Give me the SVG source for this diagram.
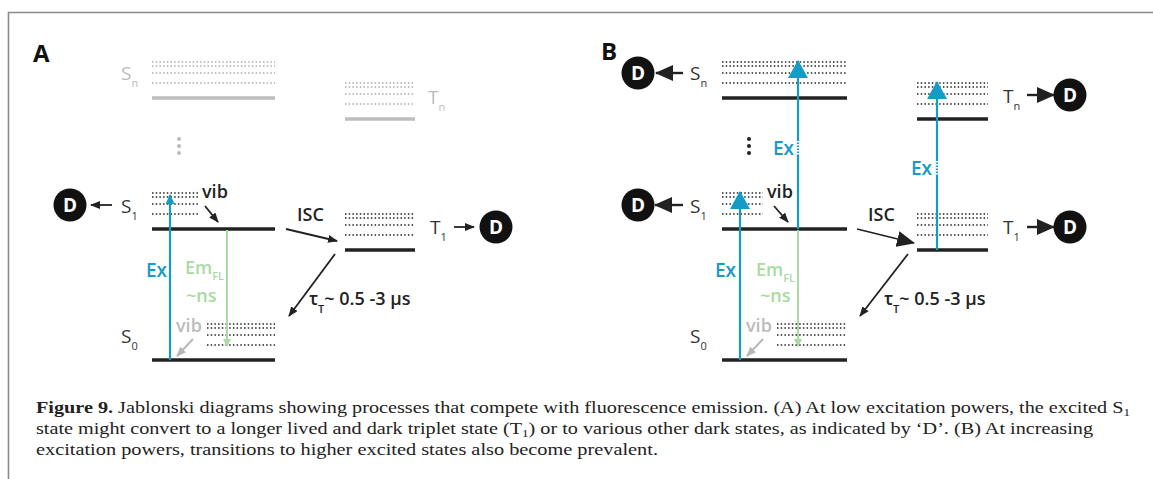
<svg xmlns="http://www.w3.org/2000/svg" width="1153" height="479" viewBox="0 0 1153 479">
<defs>
<style>
.frame{stroke:#8a8a8a;stroke-width:1.6;fill:none}
.lvl{stroke:#222;stroke-width:3.5;fill:none}
.lvlg{stroke:#bdbdbd;stroke-width:3.5;fill:none}
.dot{stroke:#222;stroke-width:1.6;stroke-dasharray:1.5 2.2;fill:none}
.dotg{stroke:#aaa;stroke-width:1.5;stroke-dasharray:1.5 2.2;fill:none}
.blk{stroke:#222;stroke-width:1.8;fill:none}
.gry{stroke:#b8b8b8;stroke-width:2;fill:none}
.ex{stroke:#159cc6;stroke-width:2.2;fill:none}
.em{stroke:#a8dca0;stroke-width:2;fill:none}
.lbl{font-family:"Open Sans","Noto Sans",sans-serif;font-weight:400;font-size:19px;fill:#333}
.sub{font-size:11px}
.bold{font-family:"Open Sans","Noto Sans",sans-serif;font-weight:600;font-size:18px;fill:#222}
.panel{font-family:"Open Sans","Noto Sans",sans-serif;font-weight:700;font-size:24px;fill:#111}
.exT{font-family:"Open Sans","Noto Sans",sans-serif;font-weight:600;font-size:19px;fill:#159cc6}
.emT{font-family:"Open Sans","Noto Sans",sans-serif;font-weight:600;font-size:18px;fill:#a8dca0}
.dC{fill:#111}
.dT{font-family:"Open Sans","Noto Sans",sans-serif;font-weight:700;font-size:19px;fill:#fff}
.cap{font-family:"Liberation Serif",serif;font-size:17px;fill:#222}
</style>
<marker id="ahB" markerUnits="userSpaceOnUse" markerWidth="10" markerHeight="8" refX="9" refY="4" orient="auto"><path d="M0,0 L10,4 L0,8 z" fill="#222"/></marker>
<marker id="ahBig" markerUnits="userSpaceOnUse" markerWidth="18" markerHeight="16" refX="17" refY="8" orient="auto"><path d="M0,0 L18,8 L0,16 z" fill="#222"/></marker>
<marker id="ahG" markerUnits="userSpaceOnUse" markerWidth="10" markerHeight="8" refX="9" refY="4" orient="auto"><path d="M0,0 L10,4 L0,8 z" fill="#b8b8b8"/></marker>
<marker id="ahC" markerUnits="userSpaceOnUse" markerWidth="10" markerHeight="9" refX="9" refY="4.5" orient="auto"><path d="M0,0 L10,4.5 L0,9 z" fill="#159cc6"/></marker>
<marker id="ahCbig" markerUnits="userSpaceOnUse" markerWidth="18" markerHeight="20" refX="17" refY="10" orient="auto"><path d="M0,0 L18,10 L0,20 z" fill="#159cc6"/></marker>
<marker id="ahE" markerUnits="userSpaceOnUse" markerWidth="8" markerHeight="8" refX="7" refY="4" orient="auto"><path d="M0,0 L8,4 L0,8 z" fill="#a8dca0"/></marker>
</defs>
<rect width="1153" height="479" fill="#fff"/>
<path class="frame" d="M8.5,479 V12.5 H1153"/>

<!-- Panel A -->
<g id="panelA">
<text class="panel" x="33" y="62">A</text>
<g id="A-Sn">
<path class="dotg" d="M152,62 H275 M152,66 H275 M152,73 H275 M152,83 H275"/>
<path class="lvlg" d="M152,98 H275"/>
<text class="lbl" x="121" y="80" style="fill:#bbb">S<tspan class="sub" dy="7">n</tspan></text>
</g>
<g id="A-Tn">
<path class="dotg" d="M345,83 H415 M345,87 H415 M345,94 H415 M345,104 H415"/>
<path class="lvlg" d="M345,119 H415"/>
<text class="lbl" x="428" y="104" style="fill:#bbb">T<tspan class="sub" dy="7">n</tspan></text>
</g>
<g id="A-vdots" fill="#bbb"><circle cx="179" cy="139" r="2"/><circle cx="179" cy="146" r="2"/><circle cx="179" cy="153" r="2"/></g>
<g id="A-S1">
<path class="dot" d="M152,193 H198 M152,197 H198 M152,204 H198 M152,214 H198"/>
<path class="lvl" d="M152,229 H275"/>
<text class="lbl" x="121" y="213">S<tspan class="sub" dy="7">1</tspan></text>
</g>
<g id="A-T1">
<path class="dot" d="M345,214 H415 M345,218 H415 M345,225 H415 M345,235 H415"/>
<path class="lvl" d="M345,250 H415"/>
<text class="lbl" x="430" y="234">T<tspan class="sub" dy="7">1</tspan></text>
</g>
<g id="A-S0">
<path class="dot" d="M207,324 H275 M207,328 H275 M207,335 H275 M207,345 H275"/>
<path class="lvl" d="M152,360 H275"/>
<text class="lbl" x="121" y="343">S<tspan class="sub" dy="7">0</tspan></text>
</g>
<g id="A-D1"><circle class="dC" cx="70" cy="205" r="16.5"/><text class="dT" x="70" y="212" text-anchor="middle">D</text></g>
<g id="A-D2"><circle class="dC" cx="496" cy="227" r="16.5"/><text class="dT" x="496" y="234" text-anchor="middle">D</text></g>
<text class="bold" x="202" y="198">vib</text>
<text class="bold" x="297" y="221">ISC</text>
<text class="bold" x="176" y="332" style="fill:#bbb">vib</text>
<text class="exT" x="146" y="277">Ex</text>
<text class="emT" x="185" y="274">Em<tspan class="sub" dy="6">FL</tspan></text>
<text class="emT" x="186" y="302">~ns</text>
<text class="bold" x="309" y="305">τ<tspan class="sub" dy="8">T</tspan><tspan dy="-8">~ 0.5 -3 μs</tspan></text>
</g>

<!-- Panel B -->
<g id="panelB">
<text class="panel" x="601" y="60">B</text>
<g id="B-Sn">
<path class="dot" d="M722,62 H847 M722,66 H847 M722,73 H847 M722,83 H847"/>
<path class="lvl" d="M722,98 H847"/>
<text class="lbl" x="690" y="80">S<tspan class="sub" dy="7">n</tspan></text>
</g>
<g id="B-Tn">
<path class="dot" d="M917,83 H988 M917,87 H988 M917,94 H988 M917,104 H988"/>
<path class="lvl" d="M917,119 H988"/>
<text class="lbl" x="1003" y="103">T<tspan class="sub" dy="7">n</tspan></text>
</g>
<g id="B-vdots" fill="#222"><circle cx="749" cy="139" r="2"/><circle cx="749" cy="146" r="2"/><circle cx="749" cy="153" r="2"/></g>
<g id="B-S1">
<path class="dot" d="M722,193 H763 M722,197 H763 M722,204 H763 M722,214 H763"/>
<path class="lvl" d="M722,229 H847"/>
<text class="lbl" x="690" y="213">S<tspan class="sub" dy="7">1</tspan></text>
</g>
<g id="B-T1">
<path class="dot" d="M917,214 H988 M917,218 H988 M917,225 H988 M917,235 H988"/>
<path class="lvl" d="M917,250 H988"/>
<text class="lbl" x="1003" y="234">T<tspan class="sub" dy="7">1</tspan></text>
</g>
<g id="B-S0">
<path class="dot" d="M777,324 H847 M777,328 H847 M777,335 H847 M777,345 H847"/>
<path class="lvl" d="M722,360 H847"/>
<text class="lbl" x="690" y="343">S<tspan class="sub" dy="7">0</tspan></text>
</g>
<g id="B-D1"><circle class="dC" cx="638" cy="73" r="16.5"/><text class="dT" x="638" y="80" text-anchor="middle">D</text></g>
<g id="B-D2"><circle class="dC" cx="638" cy="205" r="16.5"/><text class="dT" x="638" y="212" text-anchor="middle">D</text></g>
<g id="B-D3"><circle class="dC" cx="1070" cy="95" r="16.5"/><text class="dT" x="1070" y="102" text-anchor="middle">D</text></g>
<g id="B-D4"><circle class="dC" cx="1070" cy="227" r="16.5"/><text class="dT" x="1070" y="234" text-anchor="middle">D</text></g>
<text class="bold" x="767" y="198">vib</text>
<text class="bold" x="868" y="221">ISC</text>
<text class="bold" x="746" y="332" style="fill:#bbb">vib</text>
<text class="exT" x="715" y="277">Ex</text>
<text class="exT" x="773" y="155">Ex</text>
<text class="exT" x="911" y="175">Ex</text>
<text class="emT" x="756" y="276">Em<tspan class="sub" dy="6">FL</tspan></text>
<text class="emT" x="760" y="302">~ns</text>
<text class="bold" x="884" y="305">τ<tspan class="sub" dy="8">T</tspan><tspan dy="-8">~ 0.5 -3 μs</tspan></text>
</g>

<!-- Connectors -->
<g id="connectors">
<line class="blk" x1="112" y1="205" x2="91" y2="205" marker-end="url(#ahB)"/>
<line class="blk" x1="454" y1="227" x2="474" y2="227" marker-end="url(#ahB)"/>
<line class="blk" x1="205" y1="206" x2="218" y2="222" marker-end="url(#ahB)"/>
<line class="blk" x1="286" y1="229" x2="337" y2="241" marker-end="url(#ahB)"/>
<line class="blk" x1="335" y1="254" x2="289" y2="316" marker-end="url(#ahB)"/>
<line class="gry" x1="193" y1="339" x2="177" y2="356" marker-end="url(#ahG)"/>
<line class="ex" x1="170" y1="360" x2="170" y2="195" marker-end="url(#ahC)"/>
<line class="em" x1="227" y1="230" x2="227" y2="346" marker-end="url(#ahE)"/>

<line class="blk" style="stroke-width:2.4" x1="683" y1="73" x2="656" y2="73" marker-end="url(#ahBig)"/>
<line class="blk" style="stroke-width:2.4" x1="683" y1="205" x2="655" y2="205" marker-end="url(#ahBig)"/>
<line class="blk" style="stroke-width:2.4" x1="1027" y1="95" x2="1054" y2="95" marker-end="url(#ahBig)"/>
<line class="blk" style="stroke-width:2.4" x1="1027" y1="227" x2="1054" y2="227" marker-end="url(#ahBig)"/>
<line class="blk" x1="774" y1="206" x2="788" y2="222" marker-end="url(#ahB)"/>
<line class="blk" x1="857" y1="229" x2="914" y2="243" marker-end="url(#ahBig)"/>
<line class="blk" x1="908" y1="254" x2="860" y2="316" marker-end="url(#ahB)"/>
<line class="gry" x1="763" y1="339" x2="747" y2="356" marker-end="url(#ahG)"/>
<line class="em" x1="798" y1="230" x2="798" y2="346" marker-end="url(#ahE)"/>
<line class="ex" x1="740" y1="360" x2="740" y2="192" marker-end="url(#ahCbig)"/>
<line class="ex" x1="798" y1="229" x2="798" y2="61" marker-end="url(#ahCbig)"/>
<line class="ex" x1="937" y1="250" x2="937" y2="82" marker-end="url(#ahCbig)"/>
<line x1="798" y1="141" x2="798" y2="155" stroke="#fff" stroke-width="2.6" stroke-dasharray="1.5 1.5"/>
<line x1="937" y1="161" x2="937" y2="175" stroke="#fff" stroke-width="2.6" stroke-dasharray="1.5 1.5"/>
</g>

<!-- Caption -->
<g id="caption">
<text class="cap" x="36" y="413" textLength="1094" lengthAdjust="spacingAndGlyphs"><tspan font-weight="bold">Figure 9.</tspan> Jablonski diagrams showing processes that compete with fluorescence emission. (A) At low excitation powers, the excited S<tspan font-size="11" dy="3">1</tspan></text>
<text class="cap" x="36" y="434" textLength="1057" lengthAdjust="spacingAndGlyphs">state might convert to a longer lived and dark triplet state (T<tspan font-size="11" dy="3">1</tspan><tspan dy="-3">) or to various other dark states, as indicated by ‘D’. (B) At increasing</tspan></text>
<text class="cap" x="36" y="455" textLength="622" lengthAdjust="spacingAndGlyphs">excitation powers, transitions to higher excited states also become prevalent.</text>
</g>
</svg>
